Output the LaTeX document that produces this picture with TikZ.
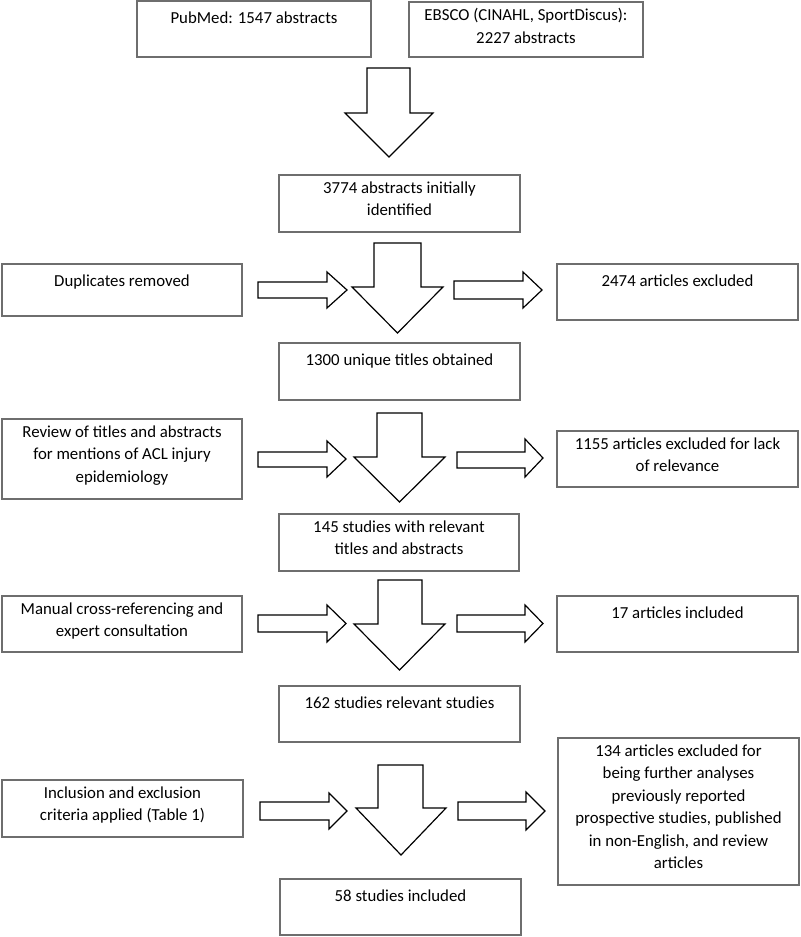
\documentclass[tikz,border=0pt]{standalone}
\usepackage{fontspec}
\setmainfont{Carlito}
\usetikzlibrary{fit}
\definecolor{boxgray}{RGB}{110,110,110}
\tikzset{
  box/.style={draw=boxgray, line width=1pt, inner sep=0pt},
  txt/.style={anchor=north, align=center, inner sep=0pt, font=\fontsize{12.6}{16.9}\selectfont, execute at begin node=\strut},
  blk/.style={draw=black, line width=0.9pt, fill=white, line join=miter}
}
\newcommand\mkbox[6]{%
  \node[box, fit={(#2,#3) (#4,#5)}] (#1) {};
  \node[txt] (#1-t) at ([yshift=-5.1pt]#1.north) {#6};}
\newcommand\downarr[7]{%
  \draw[blk] (#1,#3) -- (#2,#3) -- (#2,#4) -- (#6,#4) -- ({(#5+#6)/2},#7) -- (#5,#4) -- (#1,#4) -- cycle;}
\newcommand\rightarr[7]{%
  \draw[blk] (#1,#4) -- (#2,#4) -- (#2,#6) -- (#3,{(#6+#7)/2}) -- (#2,#7) -- (#2,#5) -- (#1,#5) -- cycle;}
\begin{document}
\begin{tikzpicture}[x=0.75pt, y=-0.75pt]
\useasboundingbox (0,0) rectangle (800,937);
% boxes
\mkbox{pub}{137}{1}{371}{57}{PubMed: 1547 abstracts}
\mkbox{ebsco}{409}{2}{643}{57}{EBSCO (CINAHL, SportDiscus):\\2227 abstracts}
\mkbox{b3774}{279}{175}{520}{232}{3774 abstracts initially\\identified}
\mkbox{dup}{2}{264}{242}{316}{Duplicates removed}
\mkbox{ex2474}{557}{264}{798}{320}{2474 articles excluded}
\mkbox{b1300}{279}{343}{520}{400}{1300 unique titles obtained}
\mkbox{review}{2}{419}{242}{499}{Review of titles and abstracts\\for mentions of ACL injury\\epidemiology}
\mkbox{ex1155}{557}{431}{798}{487}{1155 articles excluded for lack\\of relevance}
\mkbox{b145}{279}{514}{519}{571}{145 studies with relevant\\titles and abstracts}
\mkbox{manual}{2}{596}{242}{652}{Manual cross-referencing and\\expert consultation}
\mkbox{inc17}{557}{596}{798}{652}{17 articles included}
\mkbox{b162}{279}{686}{520}{742}{162 studies relevant studies}
\mkbox{incl}{2}{780}{243}{837}{Inclusion and exclusion\\criteria applied (Table 1)}
\mkbox{ex134}{558}{738}{799}{885}{134 articles excluded for\\being further analyses\\previously reported\\prospective studies, published\\in non-English, and review\\articles}
\mkbox{b58}{280}{879}{521}{935}{58 studies included}
% down block arrows
\downarr{367}{410}{68}{113}{345}{433}{157}
\downarr{374}{421}{243}{287}{352}{443}{333}
\downarr{377}{422}{413}{457}{354}{445}{502}
\downarr{378}{422}{580}{624}{354}{445}{670}
\downarr{378}{423}{765}{808}{356}{446}{855}
% right block arrows (left side)
\rightarr{258}{327}{347}{282}{298}{272}{308}
\rightarr{258}{327}{346}{452}{467}{441}{477}
\rightarr{258}{327}{346}{615}{632}{605}{642}
\rightarr{260}{329}{347}{802}{820}{793}{829}
% right block arrows (right side)
\rightarr{454}{523}{542}{281}{299}{272}{308}
\rightarr{457}{525}{543}{452}{468}{439}{477}
\rightarr{457}{525}{543}{615}{632}{605}{642}
\rightarr{458}{526}{545}{802}{820}{792}{830}
\end{tikzpicture}
\end{document}
